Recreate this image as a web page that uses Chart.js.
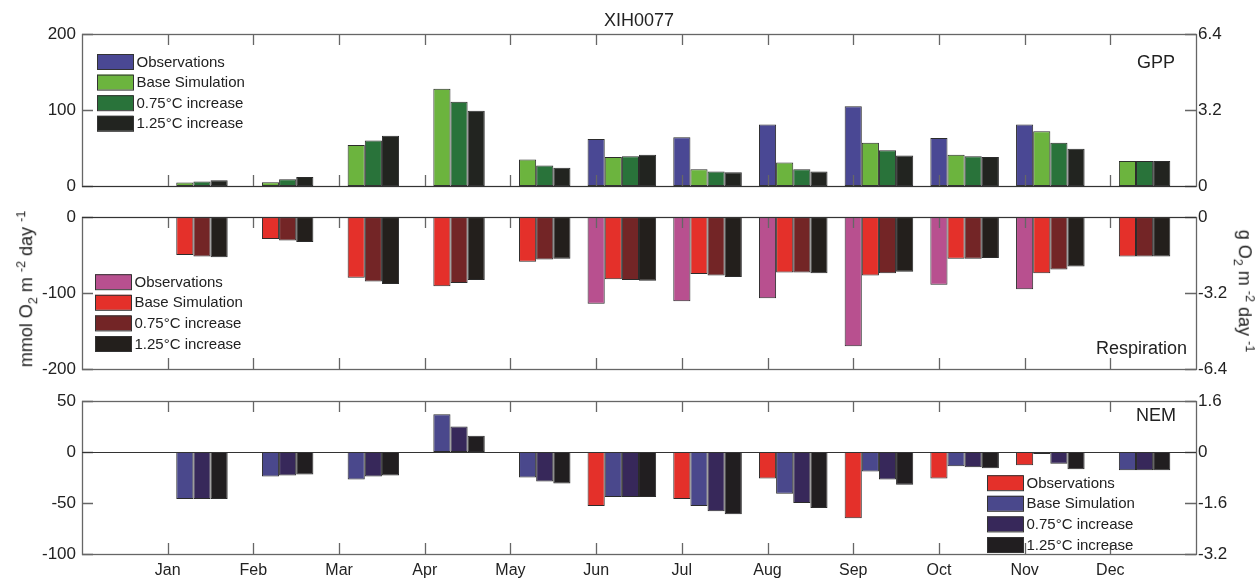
<!DOCTYPE html>
<html>
<head>
<meta charset="utf-8">
<script src="https://cdn.jsdelivr.net/npm/chart.js@4.4.1/dist/chart.umd.min.js"></script>
<style>
  body { margin: 0; background: #fff; }
  #wrap { position: relative; width: 1259px; height: 580px; font-family: "Liberation Sans", Arial, sans-serif; color: #222; }
  #wrap canvas { position: absolute; left: 0; top: 0; }
  .lbl { position: absolute; white-space: nowrap; transform-origin: center center; }
  .lbl sub, .lbl sup { font-size: 70%; }
</style>
</head>
<body>
<div id="wrap">
  <canvas id="gpp" width="1259" height="580"></canvas>
  <canvas id="resp" width="1259" height="580"></canvas>
  <canvas id="nem" width="1259" height="580"></canvas>
  <div class="lbl" style="left:639px; top:20px; font-size:18px; transform:translate(-50%,-50%);">XIH0077</div>
  <div class="lbl" style="left:27px; top:289px; font-size:18px; transform:translate(-50%,-50%) rotate(-90deg);">mmol O<sub>2</sub> m <sup>-2</sup> day <sup>-1</sup></div>
  <div class="lbl" style="left:1244px; top:291px; font-size:18px; transform:translate(-50%,-50%) rotate(90deg);">g O<sub>2</sub> m <sup>-2</sup> day <sup>-1</sup></div>
</div>
<script>
const months = ['Jan', 'Feb', 'Mar', 'Apr', 'May', 'Jun', 'Jul', 'Aug', 'Sep', 'Oct', 'Nov', 'Dec'];
const seriesNames = ['Observations', 'Base Simulation', '0.75°C increase', '1.25°C increase'];

// GPP (mmol O2 m-2 day-1)
const gppObs  = [null, null, null, null, null, 62, 64, 81, 105, 63, 81, null];
const gppBase = [4.5, 5, 54, 128, 35, 38, 22, 31, 57, 41, 72, 33];
const gpp075  = [6, 9, 60, 111, 27, 39, 19, 22, 47, 39, 57, 33];
const gpp125  = [7.5, 12, 66, 99, 24, 41, 18, 19, 40, 38, 49, 33];

// Respiration
const respObs  = [null, null, null, null, null, -114, -111, -107, -170, -89, -95, null];
const respBase = [-50, -29, -80, -91, -59, -82, -75, -73, -77, -55, -74, -52];
const resp075  = [-52, -31, -85, -87, -56, -83, -77, -73, -74, -55, -69, -52];
const resp125  = [-53, -33, -88, -83, -55, -84, -79, -74, -72, -54, -65, -52];

// NEM
const nemObs  = [null, null, null, null, null, -53, -46, -26, -65, -26, -13, null];
const nemBase = [-46, -24, -27, 37, -25, -44, -53, -41, -19, -14, -2, -18];
const nem075  = [-46, -23, -24, 25, -29, -44, -58, -50, -27, -15, -11.5, -18];
const nem125  = [-46, -22, -23, 16, -31, -44, -61, -55, -32, -16, -17, -18];

// tick labels
const gppTicks = [0, 100, 200];
const gppTicksG = [0, 3.2, 6.4];
const respTicks = [-200, -100, 0];
const respTicksG = [-6.4, -3.2, 0];
const nemTicks = [-100, -50, 0, 50];
const nemTicksG = [-3.2, -1.6, 0, 1.6];

const FONT = '"Liberation Sans", Arial, sans-serif';
const GROUP_OFFSET = 0.3; // bar groups sit a bit right of the month tick
const W = 1259, H = 580;

// frame, inward ticks, baseline, panel label and legend
const axesPlugin = {
    id: 'matlabAxes',
    afterDatasetsDraw(chart, args, opts) {
        const { ctx, chartArea: a, scales } = chart;
        const tl = 11;
        ctx.save();
        ctx.strokeStyle = '#666';
        ctx.lineWidth = 1.3;
        ctx.beginPath();
        for (let m = 1; m <= 12; m++) {
            const px = Math.round(scales.x.getPixelForValue(m)) + 0.5;
            ctx.moveTo(px, a.bottom); ctx.lineTo(px, a.bottom - tl);
            ctx.moveTo(px, a.top); ctx.lineTo(px, a.top + tl);
        }
        scales.y.ticks.forEach(t => {
            const py = Math.round(scales.y.getPixelForValue(t.value)) + 0.5;
            ctx.moveTo(a.left, py); ctx.lineTo(a.left + tl, py);
        });
        scales.y2.ticks.forEach(t => {
            const py = Math.round(scales.y2.getPixelForValue(t.value)) + 0.5;
            ctx.moveTo(a.right, py); ctx.lineTo(a.right - tl, py);
        });
        ctx.stroke();
        ctx.strokeRect(a.left + 0.5, a.top + 0.5, a.right - a.left, a.bottom - a.top);

        // bar baseline
        const y0 = Math.round(scales.y.getPixelForValue(0)) + 0.5;
        ctx.strokeStyle = '#333';
        ctx.lineWidth = 1.2;
        ctx.beginPath(); ctx.moveTo(a.left, y0); ctx.lineTo(a.right, y0); ctx.stroke();

        // panel name
        ctx.fillStyle = '#222';
        ctx.font = '18px ' + FONT;
        ctx.textAlign = 'right';
        ctx.textBaseline = 'middle';
        ctx.fillText(opts.name, opts.nameX, opts.nameY);

        // legend
        ctx.font = '15px ' + FONT;
        ctx.textAlign = 'left';
        chart.data.datasets.forEach((ds, i) => {
            const cy = opts.legY + i * 20.6;
            ctx.fillStyle = ds.backgroundColor;
            ctx.fillRect(opts.legX, cy - 7.5, 36, 15);
            ctx.strokeStyle = '#333';
            ctx.lineWidth = 1;
            ctx.strokeRect(opts.legX + 0.5, cy - 7, 36, 15);
            ctx.fillStyle = '#222';
            ctx.fillText(ds.label, opts.legX + 39.5, cy + 1);
        });
        ctx.restore();
    }
};

function makePanel(id, series, colors, yr, leftTicks, rightTicks, top, bottom, showMonths, extra) {
    const datasets = series.map((vals, i) => ({
        label: seriesNames[i],
        data: vals.map((v, k) => ({ x: k + 1 + GROUP_OFFSET, y: v })),
        backgroundColor: colors[i],
        borderColor: '#2b2b2b',
        borderWidth: 1,
        borderSkipped: false,
        categoryPercentage: 0.8,
        barPercentage: 1.0
    }));
    const fixTicks = list => scale => { scale.ticks = list.map(v => ({ value: v })); };
    const xh = showMonths ? 26 : 0;
    return new Chart(document.getElementById(id), {
        type: 'bar',
        data: { datasets: datasets },
        options: {
            responsive: false,
            animation: false,
            layout: { padding: { top: top, bottom: H - bottom - xh, left: 0, right: 0 } },
            plugins: { legend: { display: false }, tooltip: { enabled: false }, matlabAxes: extra },
            scales: {
                x: {
                    type: 'linear', min: 0, max: 13, offset: false,
                    display: showMonths,
                    grid: { display: false, drawTicks: false },
                    border: { display: false },
                    afterFit: s => { s.height = xh; },
                    ticks: {
                        stepSize: 1, autoSkip: false, maxRotation: 0, padding: 7,
                        color: '#222', font: { size: 16, family: FONT },
                        callback: v => months[v - 1] || ''
                    }
                },
                y: {
                    position: 'left', min: yr[0], max: yr[1],
                    grid: { display: false, drawTicks: false },
                    border: { display: false },
                    afterFit: s => { s.width = 82; },
                    afterBuildTicks: fixTicks(leftTicks),
                    ticks: { padding: 6, color: '#222', font: { size: 17, family: FONT } }
                },
                y2: {
                    position: 'right', min: yr[0] * 0.032, max: yr[1] * 0.032,
                    grid: { display: false, drawTicks: false },
                    border: { display: false },
                    afterFit: s => { s.width = 63; },
                    afterBuildTicks: fixTicks(rightTicks),
                    ticks: { padding: 2, color: '#222', font: { size: 17, family: FONT },
                             callback: v => String(v) }
                }
            }
        },
        plugins: [axesPlugin]
    });
}

makePanel('gpp', [gppObs, gppBase, gpp075, gpp125],
    ['#4a4894', '#6cb43e', '#29733a', '#222420'],
    [0, 200], gppTicks, gppTicksG, 34, 186, false,
    { name: 'GPP', nameX: 1175, nameY: 63, legX: 97, legY: 61.5 });

makePanel('resp', [respObs, respBase, resp075, resp125],
    ['#b8508f', '#e4302a', '#732526', '#231f1c'],
    [-200, 0], respTicks, respTicksG, 217, 369, false,
    { name: 'Respiration', nameX: 1187, nameY: 349, legX: 95, legY: 281.7 });

makePanel('nem', [nemObs, nemBase, nem075, nem125],
    ['#e4302a', '#4a488c', '#37285a', '#211e20'],
    [-100, 50], nemTicks, nemTicksG, 401, 554, true,
    { name: 'NEM', nameX: 1176, nameY: 416, legX: 987, legY: 482.7 });
</script>
</body>
</html>
